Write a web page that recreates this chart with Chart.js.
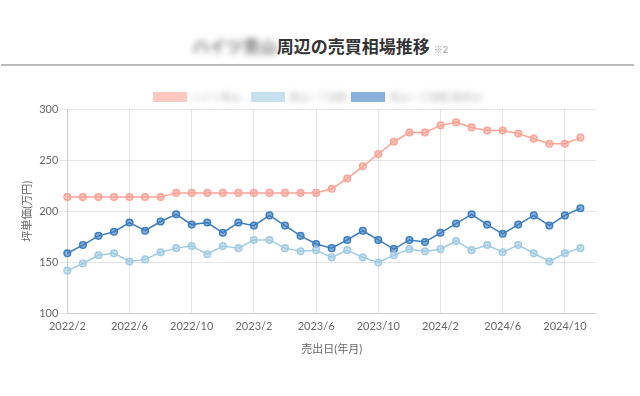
<!DOCTYPE html>
<html lang="ja">
<head>
<meta charset="utf-8">
<script src="https://cdn.jsdelivr.net/npm/chart.js@4"></script>
<style>
  html, body { margin: 0; padding: 0; background: #fff; }
  body { width: 640px; height: 396px; position: relative; overflow: hidden;
         font-family: "Lato", "Noto Sans CJK JP", sans-serif; }
  .title { position: absolute; top: 34px; left: 0; width: 640px; text-align: center;
           font-size: 17px; font-weight: bold; color: #333; line-height: 26px; }
  .title .blur { filter: blur(3px); color: #777; }
  .title small { font-size: 9px; color: #999; font-weight: normal; margin-left: 4px; }
  .rule { position: absolute; top: 64px; left: 1px; width: 633px; height: 2px; background: #bbb; }
  .legend { position: absolute; top: 90px; left: 0; width: 640px; display: flex;
            justify-content: center; align-items: center; font-size: 10px; color: #aaa; }
  .legend .item { display: flex; align-items: center; margin-right: 5px; }
  .legend .box { width: 34px; height: 10px; margin-right: 4px; }
  .legend .blur { filter: blur(3px); display: inline-block; white-space: nowrap;
                  overflow: hidden; line-height: 14px; }
  #wrap { position: absolute; left: 0; top: 100px; width: 640px; height: 260px; }
</style>
</head>
<body>
<div class="title"><span class="blur">ハイツ青山</span>周辺の売買相場推移<small>※2</small></div>
<div class="rule"></div>
<div class="legend" id="legend"></div>
<div id="wrap"><canvas id="chart"></canvas></div>
<script>
// months on the x axis
const months = [
  '2022/2', '2022/3', '2022/4', '2022/5', '2022/6', '2022/7', '2022/8', '2022/9',
  '2022/10', '2022/11', '2022/12', '2023/1', '2023/2', '2023/3', '2023/4', '2023/5',
  '2023/6', '2023/7', '2023/8', '2023/9', '2023/10', '2023/11', '2023/12', '2024/1',
  '2024/2', '2024/3', '2024/4', '2024/5', '2024/6', '2024/7', '2024/8', '2024/9',
  '2024/10', '2024/11', '2024/12'
];

const seriesNames = ['ハイツ青山', '青山一丁目駅', '青山一丁目駅 徒歩10分以内'];
const legendWidths = [55, 57, 93];

// 坪単価(万円)
const pinkValues = [
  214, 214, 214, 214, 214, 214, 214, 218, 218, 218, 218, 218, 218, 218, 218, 218, 218,
  222, 232, 244, 256, 268, 277, 277, 284, 287, 282, 279, 279, 276, 271, 266, 266, 272
];
const lightValues = [
  142, 149, 157, 159, 151, 153, 160, 164, 166, 158, 166, 164, 172, 172, 164, 161, 162, 155,
  162, 155, 150, 157, 163, 161, 163, 171, 162, 167, 160, 167, 159, 151, 159, 164
];
const darkValues = [
  159, 167, 176, 180, 189, 181, 190, 197, 187, 189, 179, 189, 186, 196, 186, 176, 168, 164,
  172, 181, 172, 163, 172, 170, 179, 188, 197, 187, 178, 187, 196, 186, 196, 203
];

const yTicks = [100, 150, 200, 250, 300];

const lineColors = ['rgb(250, 163, 150)', 'rgb(162, 203, 227)', 'rgb(59, 125, 192)'];
const fillColors = ['rgba(250, 163, 150, 0.6)', 'rgba(162, 203, 227, 0.6)', 'rgba(59, 125, 192, 0.6)'];

// html legend (labels are masked in the original)
const legend = document.getElementById('legend');
seriesNames.forEach((name, i) => {
  const item = document.createElement('div');
  item.className = 'item';
  item.innerHTML = `<span class="box" style="background:${fillColors[i]}"></span>` +
    `<span class="blur" style="width:${legendWidths[i]}px">${name}</span>`;
  legend.appendChild(item);
});

const tickFont = { family: 'Lato, "Noto Sans CJK JP", sans-serif', size: 11 };

new Chart(document.getElementById('chart'), {
  type: 'line',
  data: {
    labels: months,
    datasets: [pinkValues, lightValues, darkValues].map((values, i) => ({
      label: seriesNames[i],
      data: values,
      borderColor: lineColors[i],
      backgroundColor: fillColors[i],
      pointBackgroundColor: fillColors[i],
      pointBorderColor: lineColors[i],
      borderWidth: 1.5,
      pointRadius: 3.3,
      tension: 0,
      fill: false
    }))
  },
  options: {
    responsive: true,
    maintainAspectRatio: false,
    animation: false,
    layout: { padding: { left: 17, right: 44, top: 9, bottom: 0 } },
    plugins: {
      legend: { display: false },
      tooltip: { enabled: false }
    },
    scales: {
      x: {
        ticks: {
          autoSkip: false,
          maxRotation: 0,
          padding: 6,
          color: '#666',
          font: tickFont,
          callback: function(value, index) {
            return index % 4 === 0 ? this.getLabelForValue(value) : null;
          }
        },
        grid: { color: 'rgba(0,0,0,0.1)', drawTicks: false },
        title: { display: true, text: '売出日(年月)', color: '#666', font: tickFont }
      },
      y: {
        min: 100,
        max: 300,
        afterBuildTicks: axis => { axis.ticks = yTicks.map(v => ({ value: v })); },
        ticks: { color: '#666', font: tickFont, padding: 1 },
        grid: { color: 'rgba(0,0,0,0.1)' },
        title: { display: true, text: '坪単価(万円)', color: '#666', font: tickFont }
      }
    }
  }
});
</script>
</body>
</html>
